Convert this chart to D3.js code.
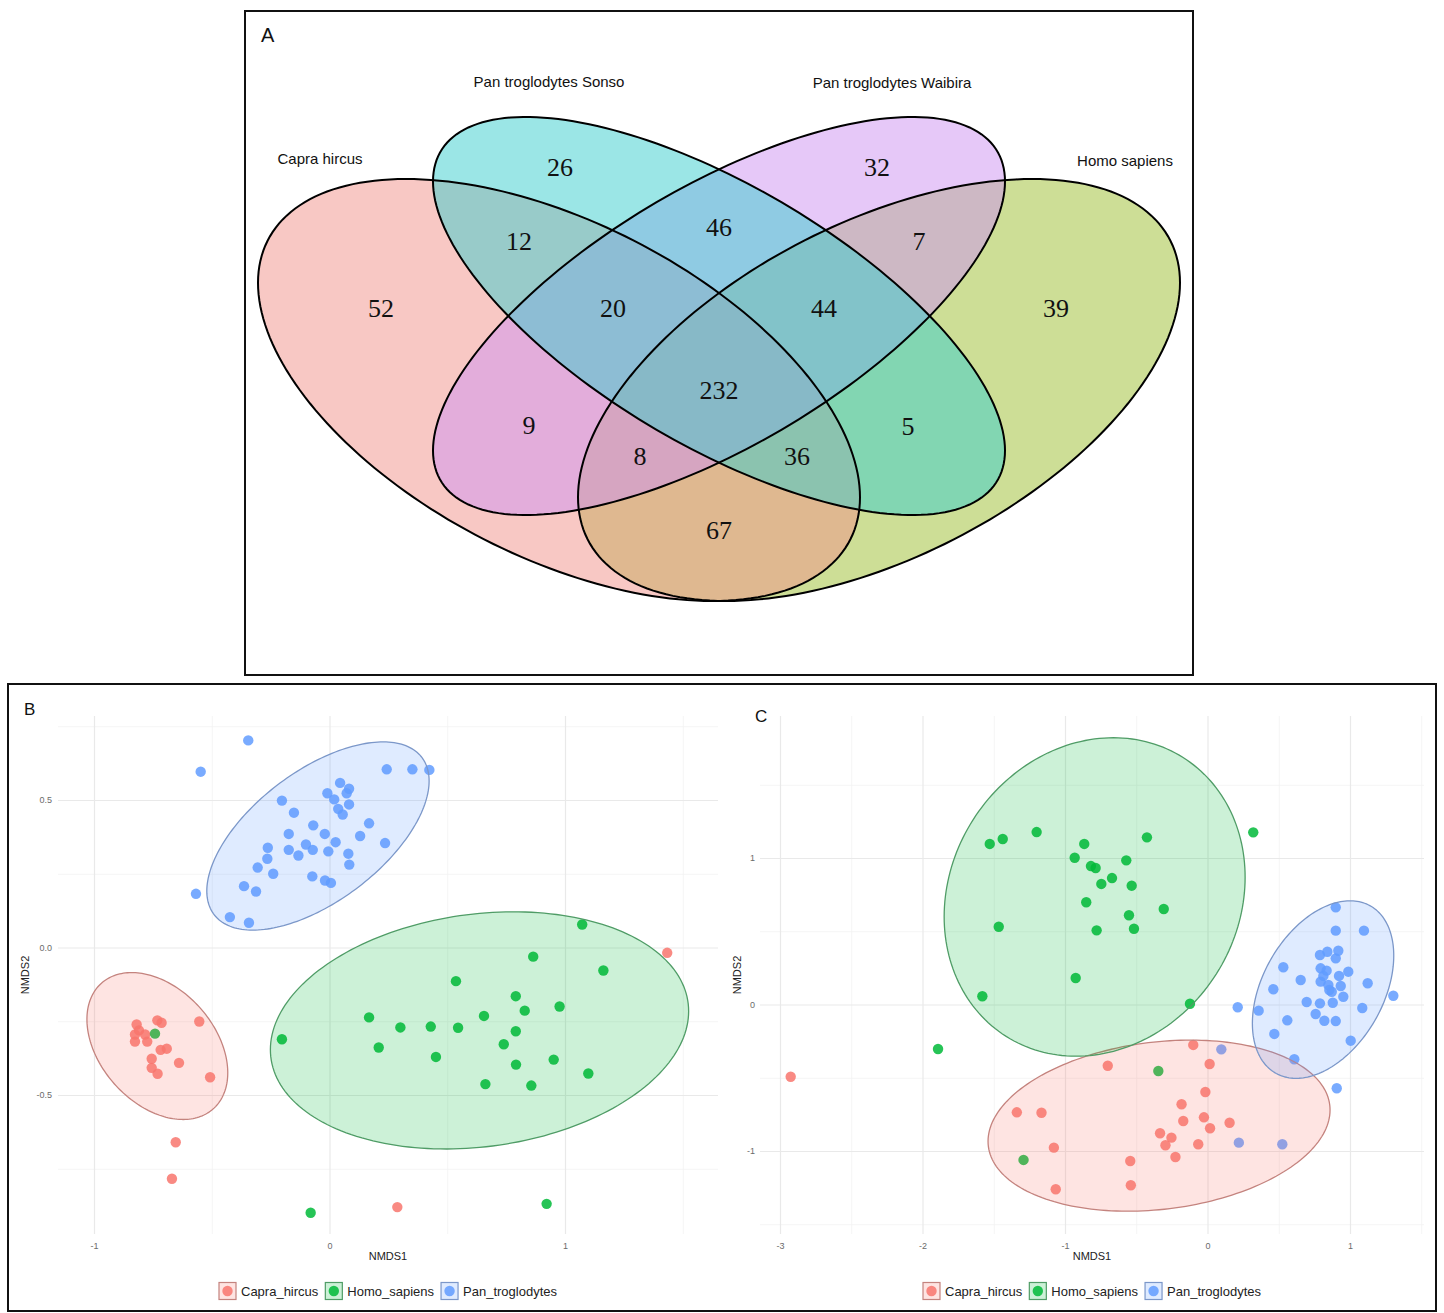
<!DOCTYPE html>
<html>
<head>
<meta charset="utf-8">
<script src="https://cdn.jsdelivr.net/npm/d3@7"></script>
<style>
  body { margin: 0; background: #fff; }
  svg { display: block; }
</style>
</head>
<body>
<svg id="fig" width="1444" height="1313"></svg>
<script>
// ---------------- Panel A: four-set Venn diagram ----------------
const vennSets = ["Capra hircus", "Pan troglodytes Sonso", "Pan troglodytes Waibira", "Homo sapiens"];
const vennKeys = ["C", "S", "W", "H"];
const vennColors = ["#F19189", "#37CDCD", "#CD91F1", "#9BBD2D"];
const vennRegions = ["C", "S", "W", "H", "CS", "SW", "WH", "CW", "SH", "CH", "CSW", "SWH", "CSH", "CWH", "CSWH"];
const vennCounts  = [52, 26, 32, 39, 12, 46, 7, 9, 5, 67, 20, 44, 36, 8, 232];

// ---------------- Panel B: NMDS (first ordination) ----------------
const groups = ["Capra_hircus", "Homo_sapiens", "Pan_troglodytes"];
const groupColors = ["#F8766D", "#00BA38", "#619CFF"];
const groupStroke = ["#c4837e", "#4f9c66", "#7b97c9"];

const bCapraX = [-0.731,-0.713,-0.553,-0.819,-0.809,-0.826,-0.783,-0.826,-0.774,-0.717,-0.691,-0.755,-0.639,-0.755,-0.730,-0.507,-0.653,-0.669,1.434,0.288];
const bCapraY = [-0.247,-0.255,-0.251,-0.261,-0.281,-0.295,-0.295,-0.319,-0.319,-0.347,-0.343,-0.377,-0.391,-0.408,-0.428,-0.440,-0.660,-0.784,-0.018,-0.880];
const bHomoX = [1.073,0.865,1.163,0.537,0.791,0.829,0.977,0.168,0.301,0.430,0.546,0.656,-0.202,0.209,0.452,0.791,0.740,0.792,0.952,1.099,0.662,0.857,-0.080,0.922,-0.741];
const bHomoY = [0.078,-0.031,-0.078,-0.114,-0.165,-0.214,-0.200,-0.237,-0.271,-0.268,-0.272,-0.232,-0.311,-0.339,-0.371,-0.284,-0.328,-0.397,-0.380,-0.427,-0.463,-0.468,-0.899,-0.869,-0.292];
const bPanX = [-0.345,-0.547,0.243,0.352,0.424,0.045,0.083,0.073,-0.009,0.020,-0.202,0.083,0.037,0.056,-0.151,0.168,-0.069,-0.020,0.130,-0.173,-0.262,-0.173,-0.100,-0.071,-0.132,-0.005,0.026,0.236,0.080,0.084,-0.264,-0.305,-0.239,-0.073,-0.019,0.006,-0.363,-0.312,-0.567,-0.423,-0.342];
const bPanY = [0.702,0.596,0.604,0.604,0.602,0.558,0.538,0.523,0.523,0.502,0.498,0.485,0.470,0.451,0.457,0.421,0.414,0.385,0.378,0.385,0.338,0.331,0.349,0.331,0.312,0.326,0.357,0.354,0.318,0.281,0.301,0.271,0.250,0.241,0.227,0.219,0.208,0.190,0.182,0.103,0.084];
// ellipse summaries per group: centre, spread along each axis, correlation
const bEllCx = [-0.731, 0.637, -0.049];
const bEllCy = [-0.334, -0.281, 0.378];
const bEllSx = [0.299, 0.888, 0.472];
const bEllSy = [0.249, 0.402, 0.319];
const bEllR  = [-0.364, 0.162, 0.585];
const bTicksX = [-1, 0, 1];
const bTicksY = [-0.5, 0, 0.5];

// ---------------- Panel C: NMDS (second ordination) ----------------
const cCapraX = [-2.925,-0.100,0.015,-0.700,-0.015,-0.182,-1.338,-1.165,-0.170,-0.025,0.018,0.155,-0.333,-0.253,-0.295,-0.065,-1.078,-0.225,-0.542,-0.538,-1.065];
const cCapraY = [-0.493,-0.276,-0.406,-0.418,-0.597,-0.681,-0.736,-0.739,-0.795,-0.770,-0.845,-0.807,-0.879,-0.909,-0.961,-0.954,-0.977,-1.041,-1.068,-1.234,-1.261];
const cHomoX = [-1.528,-1.437,-1.199,-0.865,-0.425,0.321,-0.932,-0.818,-0.785,-0.570,-0.670,-0.745,-0.532,-0.851,-0.307,-0.551,-1.465,-0.778,-0.516,-0.925,-1.580,-0.123,-1.891,-0.345,-1.291];
const cHomoY = [1.096,1.130,1.177,1.096,1.141,1.175,1.002,0.945,0.932,0.984,0.863,0.823,0.811,0.698,0.652,0.609,0.531,0.506,0.517,0.181,0.056,0.005,-0.304,-0.454,-1.061];
const cPanX = [0.900,0.900,1.098,0.789,0.841,0.918,0.900,0.532,0.794,0.836,0.988,0.813,0.923,0.654,0.794,1.124,0.848,0.935,0.462,0.855,0.872,1.304,0.953,0.696,0.789,0.879,0.212,0.359,1.086,0.759,0.560,0.820,0.900,0.469,1.005,0.609,0.907,0.097,0.220,0.525];
const cPanY = [0.663,0.504,0.504,0.338,0.360,0.367,0.315,0.254,0.247,0.231,0.224,0.195,0.195,0.167,0.156,0.145,0.133,0.126,0.104,0.099,0.087,0.060,0.053,0.017,0.008,0.012,-0.019,-0.042,-0.024,-0.065,-0.108,-0.111,-0.113,-0.201,-0.247,-0.374,-0.572,-0.306,-0.943,-0.954];
const cEllCx = [-0.340, -0.792, 0.811];
const cEllCy = [-0.827, 0.734, 0.102];
const cEllSx = [1.200, 1.056, 0.496];
const cEllSy = [0.584, 1.087, 0.606];
const cEllR  = [0.183, 0.124, 0.382];
const cTicksX = [-3, -2, -1, 0, 1];
const cTicksY = [-1, 0, 1];

// ---------------- helpers ----------------
const svg = d3.select("#fig");
const SANS = "Liberation Sans, Arial, Helvetica, sans-serif";
const SERIF = "Liberation Serif, Times New Roman, serif";

// Ellipse outline from a centre and a 2x2 shape (Cholesky factor of the covariance)
function ellipsePts(cx, cy, sx, sy, r, n = 200) {
  const l21 = r * sy, l22 = sy * Math.sqrt(1 - r * r);
  return d3.range(n + 1).map(i => {
    const t = (i / n) * 2 * Math.PI;
    return [cx + sx * Math.cos(t), cy + l21 * Math.cos(t) + l22 * Math.sin(t)];
  });
}

// ---------------- draw panel A ----------------
(function drawVenn() {
  const g = svg.append("g");
  g.append("rect").attr("x", 245).attr("y", 11).attr("width", 948).attr("height", 664)
    .attr("fill", "#fff").attr("stroke", "#111").attr("stroke-width", 2);

  // layout of the four ellipses (screen units inside the figure)
  const shapes = {
    C: { cx: 559, cy: 390, sx: 301, sy: 211, r: 0.508 },
    S: { cx: 719, cy: 316, sx: 286, sy: 199, r: 0.676 },
    W: { cx: 719, cy: 316, sx: 286, sy: 199, r: -0.676 },
    H: { cx: 879, cy: 390, sx: 301, sy: 211, r: -0.508 }
  };
  const line = d3.line().curve(d3.curveLinearClosed);
  const fillOrder = ["H", "C", "W", "S"];
  fillOrder.forEach(k => {
    const s = shapes[k];
    g.append("path").attr("d", line(ellipsePts(s.cx, s.cy, s.sx, s.sy, s.r)))
      .attr("fill", vennColors[vennKeys.indexOf(k)]).attr("fill-opacity", 0.5).attr("stroke", "none");
  });
  vennKeys.forEach(k => {
    const s = shapes[k];
    g.append("path").attr("d", line(ellipsePts(s.cx, s.cy, s.sx, s.sy, s.r)))
      .attr("fill", "none").attr("stroke", "#000").attr("stroke-width", 2);
  });

  // anchor points for the region counts
  const regionAnchor = {
    C: [381, 308], S: [560, 167], W: [877, 167], H: [1056, 308],
    CS: [519, 241], SW: [719, 227], WH: [919, 241], CW: [529, 425], SH: [908, 426],
    CH: [719, 530], CSW: [613, 308], SWH: [824, 308], CSH: [797, 456], CWH: [640, 456],
    CSWH: [719, 390]
  };
  vennRegions.forEach((reg, i) => {
    const p = regionAnchor[reg];
    g.append("text").attr("x", p[0]).attr("y", p[1]).attr("text-anchor", "middle")
      .attr("dominant-baseline", "central").attr("font-family", SERIF).attr("font-size", 26)
      .attr("fill", "#111").text(vennCounts[i]);
  });

  const setAnchor = { C: [320, 158], S: [549, 81], W: [892, 82], H: [1125, 160] };
  vennKeys.forEach((k, i) => {
    const p = setAnchor[k];
    g.append("text").attr("x", p[0]).attr("y", p[1]).attr("text-anchor", "middle")
      .attr("dominant-baseline", "central").attr("font-family", SANS).attr("font-size", 15)
      .attr("fill", "#111").text(vennSets[i]);
  });
  g.append("text").attr("x", 261).attr("y", 42).attr("font-family", SANS).attr("font-size", 20)
    .attr("fill", "#111").text("A");
})();

// ---------------- NMDS panels ----------------
svg.append("rect").attr("x", 8).attr("y", 684).attr("width", 1428).attr("height", 627)
  .attr("fill", "none").attr("stroke", "#111").attr("stroke-width", 2);

function drawNMDS(cfg) {
  const g = svg.append("g");
  const { box, x, y } = cfg;

  // minor grid positions halfway between the major ticks
  const stepX = cfg.ticksX[1] - cfg.ticksX[0];
  const minorX = [cfg.ticksX[0] - stepX / 2].concat(cfg.ticksX.map(t => t + stepX / 2));
  const stepY = cfg.ticksY[1] - cfg.ticksY[0];
  const minorY = [cfg.ticksY[0] - stepY / 2].concat(cfg.ticksY.map(t => t + stepY / 2));

  g.append("g").attr("transform", `translate(0,${box.y1})`)
    .call(d3.axisBottom(x).tickValues(minorX.filter(v => x(v) >= box.x0 && x(v) <= box.x1))
      .tickSize(-(box.y1 - box.y0)).tickFormat(""))
    .call(a => { a.select(".domain").remove(); a.selectAll("line").attr("stroke", "#f2f2f2").attr("stroke-width", 0.8); });
  g.append("g").attr("transform", `translate(${box.x0},0)`)
    .call(d3.axisLeft(y).tickValues(minorY.filter(v => y(v) >= box.y0 && y(v) <= box.y1))
      .tickSize(-(box.x1 - box.x0)).tickFormat(""))
    .call(a => { a.select(".domain").remove(); a.selectAll("line").attr("stroke", "#f2f2f2").attr("stroke-width", 0.8); });
  // major grid
  g.append("g").attr("transform", `translate(0,${box.y1})`)
    .call(d3.axisBottom(x).tickValues(cfg.ticksX).tickSize(-(box.y1 - box.y0)).tickFormat(""))
    .call(a => { a.select(".domain").remove(); a.selectAll("line").attr("stroke", "#e9e9e9").attr("stroke-width", 1.2); });
  g.append("g").attr("transform", `translate(${box.x0},0)`)
    .call(d3.axisLeft(y).tickValues(cfg.ticksY).tickSize(-(box.x1 - box.x0)).tickFormat(""))
    .call(a => { a.select(".domain").remove(); a.selectAll("line").attr("stroke", "#e9e9e9").attr("stroke-width", 1.2); });

  // tick labels
  g.append("g").attr("transform", `translate(0,${box.y1})`)
    .call(d3.axisBottom(x).tickValues(cfg.ticksX).tickSize(0).tickPadding(9).tickFormat(cfg.fmtX))
    .call(a => {
      a.select(".domain").remove();
      a.selectAll("text").attr("font-family", SANS).attr("font-size", 9).attr("fill", "#6b6b6b");
    });
  g.append("g").attr("transform", `translate(${cfg.yLabelX},0)`)
    .call(d3.axisLeft(y).tickValues(cfg.ticksY).tickSize(0).tickPadding(0).tickFormat(cfg.fmtY))
    .call(a => {
      a.select(".domain").remove();
      a.selectAll("text").attr("font-family", SANS).attr("font-size", 9).attr("fill", "#6b6b6b");
    });

  // axis titles
  const midX = (box.x0 + box.x1) / 2;
  g.append("text").attr("x", midX).attr("y", 1260).attr("text-anchor", "middle")
    .attr("font-family", SANS).attr("font-size", 11).attr("fill", "#222").text("NMDS1");
  g.append("text").attr("transform", `translate(${cfg.yTitleX},${(box.y0 + box.y1) / 2}) rotate(-90)`)
    .attr("text-anchor", "middle").attr("font-family", SANS).attr("font-size", 11).attr("fill", "#222").text("NMDS2");

  // points
  cfg.series.forEach((s, gi) => {
    g.append("g").selectAll("circle").data(d3.zip(s[0], s[1])).join("circle")
      .attr("cx", d => x(d[0])).attr("cy", d => y(d[1])).attr("r", 5.2)
      .attr("fill", groupColors[gi]).attr("fill-opacity", 0.85);
  });

  // ellipses drawn over the points
  const line = d3.line().curve(d3.curveLinearClosed);
  groups.forEach((gname, gi) => {
    const pts = ellipsePts(cfg.ell.cx[gi], cfg.ell.cy[gi], cfg.ell.sx[gi], cfg.ell.sy[gi], cfg.ell.r[gi])
      .map(p => [x(p[0]), y(p[1])]);
    g.append("path").attr("d", line(pts))
      .attr("fill", groupColors[gi]).attr("fill-opacity", 0.2)
      .attr("stroke", groupStroke[gi]).attr("stroke-width", 1.3);
  });

  // panel tag
  g.append("text").attr("x", cfg.tag[1]).attr("y", cfg.tag[2]).attr("font-family", SANS)
    .attr("font-size", 17).attr("fill", "#111").text(cfg.tag[0]);

  // legend
  const lg = g.append("g");
  let cursor = 0;
  groups.forEach((gname, gi) => {
    const it = lg.append("g");
    it.append("rect").attr("x", 0).attr("y", -8.5).attr("width", 17).attr("height", 17)
      .attr("fill", groupColors[gi]).attr("fill-opacity", 0.2)
      .attr("stroke", groupStroke[gi]).attr("stroke-width", 1.2);
    it.append("circle").attr("cx", 8.5).attr("cy", 0).attr("r", 5.2)
      .attr("fill", groupColors[gi]).attr("fill-opacity", 0.85);
    const t = it.append("text").attr("x", 22).attr("y", 0).attr("dominant-baseline", "central")
      .attr("font-family", SANS).attr("font-size", 13).attr("fill", "#222").text(gname);
    const w = 22 + t.node().getComputedTextLength();
    it.attr("transform", `translate(${cursor},0)`);
    cursor += w + 7;
  });
  const total = cursor - 7;
  lg.attr("transform", `translate(${midX - total / 2},1291)`);
}

drawNMDS({
  box: { x0: 58, x1: 718, y0: 716, y1: 1234 },
  x: d3.scaleLinear().domain([-1, 1]).range([94, 565]),
  y: d3.scaleLinear().domain([-0.5, 0.5]).range([1095, 800]),
  ticksX: bTicksX, ticksY: bTicksY,
  fmtX: d => String(d),
  fmtY: d => d.toFixed(1),
  yLabelX: 52, yTitleX: 29,
  series: [[bCapraX, bCapraY], [bHomoX, bHomoY], [bPanX, bPanY]],
  ell: { cx: bEllCx, cy: bEllCy, sx: bEllSx, sy: bEllSy, r: bEllR },
  tag: ["B", 24, 715]
});

drawNMDS({
  box: { x0: 760, x1: 1424, y0: 716, y1: 1234 },
  x: d3.scaleLinear().domain([-3, 1]).range([780, 1350]),
  y: d3.scaleLinear().domain([-1, 1]).range([1151, 858]),
  ticksX: cTicksX, ticksY: cTicksY,
  fmtX: d => String(d),
  fmtY: d => String(d),
  yLabelX: 755, yTitleX: 741,
  series: [[cCapraX, cCapraY], [cHomoX, cHomoY], [cPanX, cPanY]],
  ell: { cx: cEllCx, cy: cEllCy, sx: cEllSx, sy: cEllSy, r: cEllR },
  tag: ["C", 755, 722]
});
</script>
</body>
</html>
